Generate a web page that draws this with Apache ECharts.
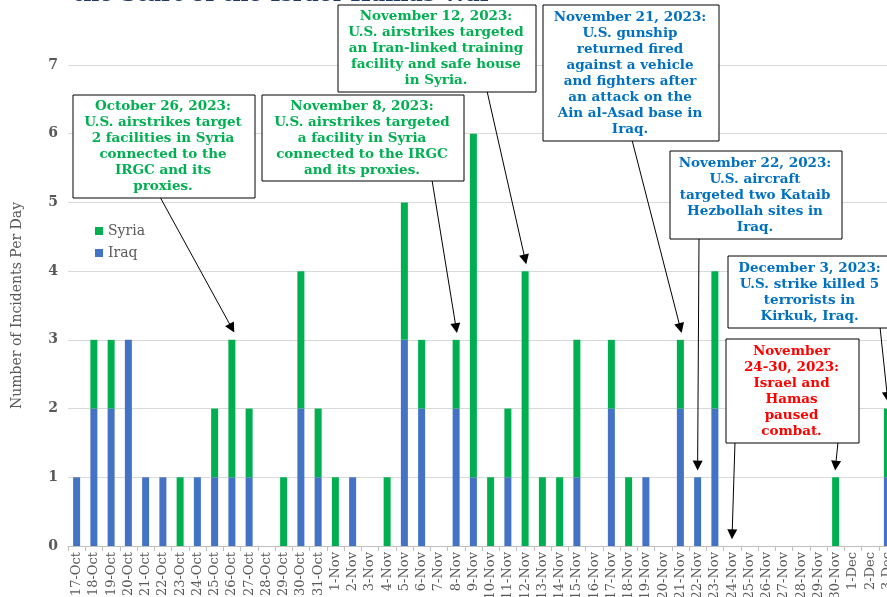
<!DOCTYPE html>
<html>
<head>
<meta charset="utf-8">
<script src="https://cdn.jsdelivr.net/npm/echarts@6/dist/echarts.min.js"></script>
<style>
html,body{margin:0;padding:0;overflow:hidden;background:#fff;}
#main{width:905px;height:640px;}
</style>
</head>
<body>
<div id="main"></div>
<script>
// daily incidents, 17 Oct - 3 Dec 2023
var days = ['17-Oct','18-Oct','19-Oct','20-Oct','21-Oct','22-Oct','23-Oct','24-Oct','25-Oct','26-Oct',
    '27-Oct','28-Oct','29-Oct','30-Oct','31-Oct','1-Nov','2-Nov','3-Nov','4-Nov','5-Nov',
    '6-Nov','7-Nov','8-Nov','9-Nov','10-Nov','11-Nov','12-Nov','13-Nov','14-Nov','15-Nov',
    '16-Nov','17-Nov','18-Nov','19-Nov','20-Nov','21-Nov','22-Nov','23-Nov','24-Nov','25-Nov',
    '26-Nov','27-Nov','28-Nov','29-Nov','30-Nov','1-Dec','2-Dec','3-Dec'];
var iraq  = [1,2,2,3,1,1,0,1,1,1, 1,0,0,2,1,0,1,0,0,3, 2,0,2,1,0,1,0,0,0,1, 0,2,0,1,0,2,1,2,0,0, 0,0,0,0,0,0,0,1];
var syria = [0,1,1,0,0,0,1,0,1,2, 1,0,1,2,1,1,0,0,1,2, 1,0,1,5,1,1,4,1,1,2, 0,1,1,0,0,1,0,2,0,0, 0,0,0,0,1,0,0,1];

var GREEN = '#00B050', BLUE = '#4472C4', NOTE_BLUE = '#0070C0', RED = '#FF0000';
var SERIF = '"DejaVu Serif", serif';

// annotation boxes: box = [left, top, width, height], arrows = [[startX, startY], day]
var notes = [
    {text: 'October 26, 2023:\nU.S. airstrikes target\n2 facilities in Syria\nconnected to the\nIRGC and its\nproxies.',
     color: GREEN, box: [72, 94, 182, 103], arrows: [[[160, 197], '26-Oct']]},
    {text: 'November 8, 2023:\nU.S. airstrikes targeted\na facility in Syria\nconnected to the IRGC\nand its proxies.',
     color: GREEN, box: [261, 94, 202, 86], arrows: [[[432, 180], '8-Nov']]},
    {text: 'November 12, 2023:\nU.S. airstrikes targeted\nan Iran-linked training\nfacility and safe house\nin Syria.',
     color: GREEN, box: [337, 4, 198, 87], arrows: [[[487, 91], '12-Nov']]},
    {text: 'November 21, 2023:\nU.S. gunship\nreturned fired\nagainst a vehicle\nand fighters after\nan attack on the\nAin al-Asad base in\nIraq.',
     color: NOTE_BLUE, box: [542, 4, 176, 136], arrows: [[[632, 140], '21-Nov']]},
    {text: 'November 22, 2023:\nU.S. aircraft\ntargeted two Kataib\nHezbollah sites in\nIraq.',
     color: NOTE_BLUE, box: [669, 150, 172, 88], arrows: [[[699, 238], '22-Nov']]},
    {text: 'December 3, 2023:\nU.S. strike killed 5\nterrorists in\nKirkuk, Iraq.',
     color: NOTE_BLUE, box: [727, 255, 165, 72], arrows: [[[880, 327], '3-Dec']]},
    {text: 'November\n24-30, 2023:\nIsrael and\nHamas\npaused\ncombat.',
     color: RED, box: [725, 338, 133, 104], arrows: [[[735, 442], '24-Nov'], [[838, 442], '30-Nov']]}
];

var arrowLines = [];
var boxes = [];
notes.forEach(function (n) {
    n.arrows.forEach(function (a) {
        var i = days.indexOf(a[1]);
        arrowLines.push([{x: a[0][0], y: a[0][1]}, {coord: [a[1], iraq[i] + syria[i] + 0.17]}]);
    });
    boxes.push({
        type: 'rect', z: 100, left: n.box[0] + 0.5, top: n.box[1] + 0.5,
        shape: {x: 0, y: 0, width: n.box[2], height: n.box[3]},
        style: {fill: '#fff', stroke: '#000', lineWidth: 1}
    });
    boxes.push({
        type: 'text', z: 101, x: n.box[0] + n.box[2] / 2, y: n.box[1] + n.box[3] / 2 + 1,
        style: {text: n.text, fill: n.color, fontSize: 13.5, fontWeight: 'bold', fontFamily: SERIF,
                align: 'center', textAlign: 'center', verticalAlign: 'middle', textVerticalAlign: 'middle',
                lineHeight: 16}
    });
});

var chart = echarts.init(document.getElementById('main'));
var option = {
    animation: false,
    backgroundColor: '#fff',
    title: {
        text: 'the Start of the Israel-Hamas War',
        left: 68, top: -21,
        textStyle: {color: '#1F3864', fontSize: 22, fontWeight: 'bold', fontFamily: SERIF}
    },
    legend: {
        orient: 'vertical', left: 90, top: 219,
        data: ['Syria', 'Iraq'],
        icon: 'rect', itemWidth: 8, itemHeight: 8, itemGap: 8,
        textStyle: {color: '#595959', fontSize: 14, fontFamily: SERIF}
    },
    grid: {left: 68, right: 9, top: 65, bottom: 94},
    xAxis: {
        type: 'category',
        data: days,
        axisLine: {lineStyle: {color: '#bfbfbf'}},
        axisTick: {show: true, length: 5, lineStyle: {color: '#bfbfbf'}},
        axisLabel: {interval: 0, rotate: 90, margin: 6, color: '#595959', fontSize: 13, fontFamily: SERIF}
    },
    yAxis: {
        type: 'value', min: 0, max: 7, interval: 1,
        name: 'Number of Incidents Per Day',
        nameLocation: 'middle', nameGap: 44,
        nameTextStyle: {color: '#595959', fontSize: 14, fontFamily: SERIF},
        axisLine: {show: false},
        axisTick: {show: false},
        axisLabel: {margin: 10, color: '#595959', fontSize: 14, fontWeight: 'bold', fontFamily: SERIF},
        splitLine: {lineStyle: {color: '#d9d9d9'}}
    },
    series: [
        {name: 'Iraq', type: 'bar', stack: 'total', barWidth: 7, data: iraq,
         itemStyle: {color: BLUE}},
        {name: 'Syria', type: 'bar', stack: 'total', barWidth: 7, data: syria,
         itemStyle: {color: GREEN},
         markLine: {
             silent: true,
             symbol: ['none', 'triangle'], symbolSize: 10,
             label: {show: false},
             lineStyle: {color: '#000', width: 1, type: 'solid'},
             emphasis: {disabled: true},
             data: arrowLines
         }}
    ],
    graphic: boxes
};
chart.setOption(option);
</script>
</body>
</html>
